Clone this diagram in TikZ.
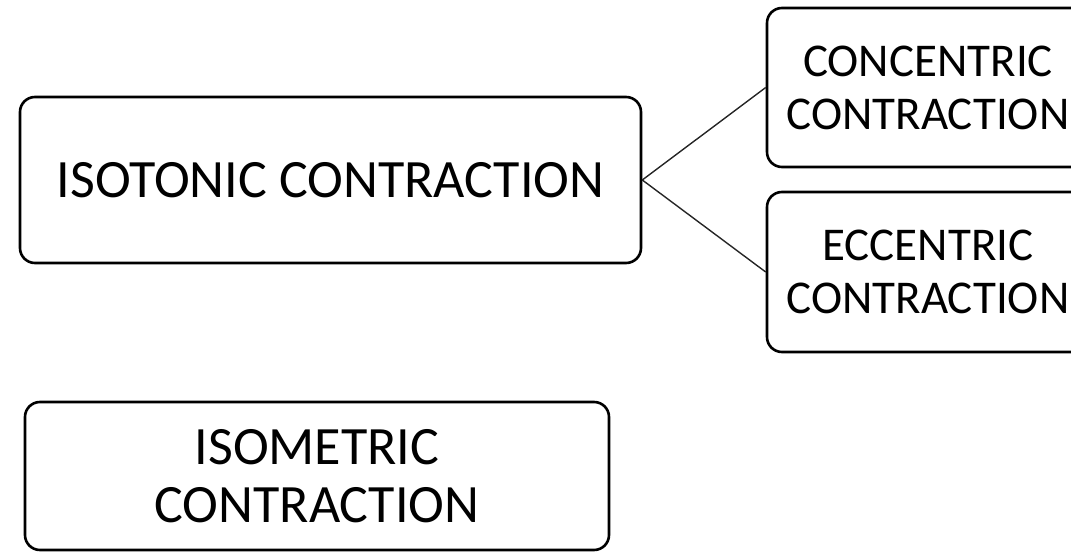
\documentclass[tikz,border=0pt]{standalone}
\usepackage{fontspec}
\setmainfont{Carlito}
\usetikzlibrary{positioning}

\begin{document}
\begin{tikzpicture}[
  x=1pt, y=1pt,
  bigbox/.style={draw=black, line width=2.6pt, rounded corners=15pt, align=center, inner sep=0pt, font=\fontsize{54}{58}\selectfont},
  smallbox/.style={draw=black, line width=2.6pt, rounded corners=15pt, align=center, inner sep=0pt, font=\fontsize{47}{53}\selectfont, minimum width=322pt, minimum height=160pt},
  link/.style={line width=1.4pt, draw=black!85}
]
\useasboundingbox (0,0) rectangle (1071,552);

\node[bigbox, minimum width=621pt, minimum height=166pt] (isotonic) at (330.5,372) {ISOTONIC CONTRACTION};
\node[smallbox, minimum height=159pt] (concentric) at (928,464.5) {CONCENTRIC\\CONTRACTION};
\node[smallbox] (eccentric) at (928,280) {ECCENTRIC\\CONTRACTION};
\node[bigbox, minimum width=584pt, minimum height=148pt] (isometric) at (317,76) {ISOMETRIC\\CONTRACTION};

\draw[link] (isotonic.east) -- (concentric.west);
\draw[link] (isotonic.east) -- (eccentric.west);
\end{tikzpicture}
\end{document}
